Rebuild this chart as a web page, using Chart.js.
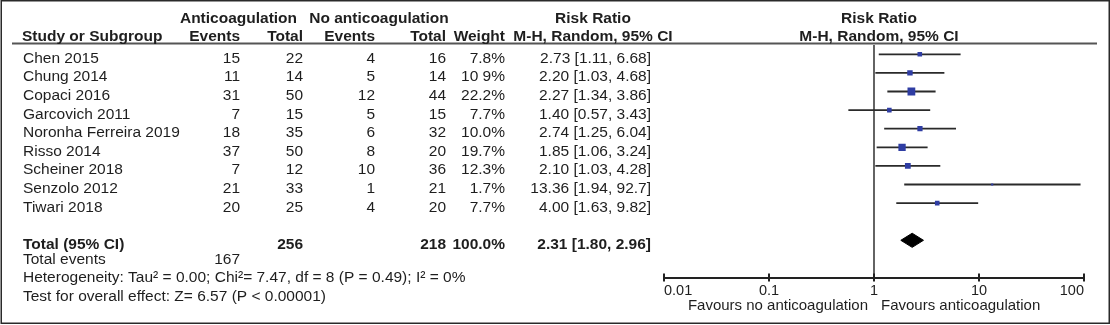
<!DOCTYPE html>
<html>
<head>
<meta charset="utf-8">
<script src="https://cdn.jsdelivr.net/npm/chart.js@4.4.1/dist/chart.umd.min.js"></script>
<style>
  html, body { margin: 0; padding: 0; background: #fff; }
  #forest { display: block; }
</style>
</head>
<body>
<canvas id="forest" width="1110" height="325"></canvas>
<script>
// ---- study data ----
const studies = ['Chen 2015', 'Chung 2014', 'Copaci 2016', 'Garcovich 2011', 'Noronha Ferreira 2019',
                 'Risso 2014', 'Scheiner 2018', 'Senzolo 2012', 'Tiwari 2018'];
const antiEvents   = [15, 11, 31, 7, 18, 37, 7, 21, 20];
const antiTotal    = [22, 14, 50, 15, 35, 50, 12, 33, 25];
const noAntiEvents = [4, 5, 12, 5, 6, 8, 10, 1, 4];
const noAntiTotal  = [16, 14, 44, 15, 32, 20, 36, 21, 20];
const weights      = [7.8, 10.9, 22.2, 7.7, 10.0, 19.7, 12.3, 1.7, 7.7];
const weightText   = ['7.8%', '10 9%', '22.2%', '7.7%', '10.0%', '19.7%', '12.3%', '1.7%', '7.7%'];
const riskRatio    = [2.73, 2.20, 2.27, 1.40, 2.74, 1.85, 2.10, 13.36, 4.00];
const ciLow        = [1.11, 1.03, 1.34, 0.57, 1.25, 1.06, 1.03, 1.94, 1.63];
const ciHigh       = [6.68, 4.68, 3.86, 3.43, 6.04, 3.24, 4.28, 92.7, 9.82];

// pooled result
const pooled = [2.31, 1.80, 2.96];          // estimate, lower, upper
const pooledTotals = [167, 256, 218];       // total events, anticoag n, no anticoag n
const pooledWeight = '100.0%';

const axisTicks = [0.01, 0.1, 1, 10, 100];
const axisTickLabels = ['0.01', '0.1', '1', '10', '100'];

const heterogeneityText = 'Heterogeneity: Tau\u00B2 = 0.00; Chi\u00B2= 7.47, df = 8 (P = 0.49); I\u00B2 = 0%';
const overallText = 'Test for overall effect: Z= 6.57 (P < 0.00001)';

// ---- layout ----
const TOTAL_ROW = 10;
const FONT = '"Liberation Sans", Arial, Helvetica, sans-serif';
const INK = '#1e1e1e';

const fmt = v => (v >= 50 ? v.toFixed(1) : v.toFixed(2));
const ciLabel = (est, lo, hi) => `${est.toFixed(2)} [${fmt(lo)}, ${fmt(hi)}]`;

const whiskers = studies.map((s, i) => ({
  type: 'line',
  data: [{ x: ciLow[i], y: i }, { x: ciHigh[i], y: i }],
  borderColor: '#2a2a2a',
  borderWidth: 1.8,
  pointRadius: 0,
  order: 2
}));

const squares = {
  type: 'scatter',
  data: studies.map((s, i) => ({ x: riskRatio[i], y: i })),
  pointStyle: 'rect',
  pointRadius: c => 1.65 * Math.sqrt(weights[c.dataIndex]) / Math.SQRT2,
  pointBackgroundColor: '#2f3da3',
  backgroundColor: '#2f3da3',
  pointBorderWidth: 0,
  borderWidth: 0,
  order: 0
};

const diamond = {
  type: 'line',
  data: [
    { x: pooled[1], y: TOTAL_ROW },
    { x: pooled[0], y: TOTAL_ROW - 0.38 },
    { x: pooled[2], y: TOTAL_ROW },
    { x: pooled[0], y: TOTAL_ROW + 0.38 },
    { x: pooled[1], y: TOTAL_ROW }
  ],
  borderColor: '#000',
  backgroundColor: '#000',
  borderWidth: 1,
  fill: 'shape',
  pointRadius: 0,
  tension: 0,
  order: 0
};

const nullLine = {
  type: 'line',
  data: [{ x: 1, y: -0.5 }, { x: 1, y: 12 }],
  borderColor: '#222',
  borderWidth: 1.4,
  pointRadius: 0,
  order: 3
};

function text(ctx, str, x, y, align, bold, size) {
  ctx.font = `${bold ? 'bold ' : ''}${size || 15.5}px ${FONT}`;
  ctx.textAlign = align;
  ctx.fillText(str, x, y);
}

// table columns, frame and axis captions
const tablePlugin = {
  id: 'forestTable',
  afterDraw(chart) {
    const { ctx } = chart;
    const { x, y } = chart.scales;
    const base = r => y.getPixelForValue(r) + 8.5;

    ctx.save();
    // frame
    ctx.strokeStyle = '#2a2a2a';
    ctx.lineWidth = 1.5;
    ctx.strokeRect(1.25, 0.75, 1108, 322.5);

    // header rule
    ctx.strokeStyle = '#555';
    ctx.lineWidth = 2;
    ctx.beginPath();
    ctx.moveTo(12, 43.5);
    ctx.lineTo(1097, 43.5);
    ctx.stroke();

    // upper half of the axis tick marks
    ctx.strokeStyle = '#222';
    ctx.lineWidth = 2;
    axisTicks.forEach(v => {
      const px = Math.round(x.getPixelForValue(v));
      ctx.beginPath();
      ctx.moveTo(px, chart.chartArea.bottom - 4);
      ctx.lineTo(px, chart.chartArea.bottom);
      ctx.stroke();
    });

    ctx.fillStyle = INK;
    ctx.textBaseline = 'alphabetic';

    // headers
    text(ctx, 'Anticoagulation', 238.5, 22.7, 'center', true);
    text(ctx, 'No anticoagulation', 379, 22.7, 'center', true);
    text(ctx, 'Risk Ratio', 593, 22.7, 'center', true);
    text(ctx, 'Risk Ratio', 879, 22.7, 'center', true);
    text(ctx, 'Study or Subgroup', 22, 41, 'left', true);
    text(ctx, 'Events', 240, 41, 'right', true);
    text(ctx, 'Total', 303, 41, 'right', true);
    text(ctx, 'Events', 375, 41, 'right', true);
    text(ctx, 'Total', 446, 41, 'right', true);
    text(ctx, 'Weight', 505, 41, 'right', true);
    text(ctx, 'M-H, Random, 95% CI', 593, 41, 'center', true);
    text(ctx, 'M-H, Random, 95% CI', 879, 41, 'center', true);

    // study rows
    studies.forEach((s, i) => {
      const by = base(i);
      text(ctx, s, 23, by, 'left');
      text(ctx, String(antiEvents[i]), 240, by, 'right');
      text(ctx, String(antiTotal[i]), 303, by, 'right');
      text(ctx, String(noAntiEvents[i]), 375, by, 'right');
      text(ctx, String(noAntiTotal[i]), 446, by, 'right');
      text(ctx, weightText[i], 505, by, 'right');
      text(ctx, ciLabel(riskRatio[i], ciLow[i], ciHigh[i]), 651, by, 'right');
    });

    // pooled rows
    const ty = base(TOTAL_ROW);
    text(ctx, 'Total (95% CI)', 23, ty, 'left', true);
    text(ctx, String(pooledTotals[1]), 303, ty, 'right', true);
    text(ctx, String(pooledTotals[2]), 446, ty, 'right', true);
    text(ctx, pooledWeight, 505, ty, 'right', true);
    text(ctx, ciLabel(pooled[0], pooled[1], pooled[2]), 651, ty, 'right', true);
    text(ctx, 'Total events', 23, base(TOTAL_ROW + 0.82), 'left');
    text(ctx, String(pooledTotals[0]), 240, base(TOTAL_ROW + 0.82), 'right');
    text(ctx, heterogeneityText, 23, base(TOTAL_ROW + 1.8), 'left');
    text(ctx, overallText, 23, base(TOTAL_ROW + 2.8), 'left');

    // favours captions either side of the null line
    const one = x.getPixelForValue(1);
    text(ctx, 'Favours no anticoagulation', one - 6, 309.5, 'right', false, 15);
    text(ctx, 'Favours anticoagulation', one + 7, 309.5, 'left', false, 15);
    ctx.restore();
  }
};

new Chart(document.getElementById('forest'), {
  type: 'scatter',
  data: { datasets: [squares, diamond, ...whiskers, nullLine] },
  options: {
    responsive: false,
    animation: false,
    devicePixelRatio: 1,
    events: [],
    layout: { padding: { left: 664, right: 26, top: 45, bottom: 0 } },
    plugins: { legend: { display: false }, tooltip: { enabled: false } },
    scales: {
      x: {
        type: 'logarithmic',
        min: 0.01,
        max: 100,
        afterBuildTicks: s => { s.ticks = axisTicks.map(v => ({ value: v })); },
        afterFit: s => { s.height = 47.5; },
        border: { display: true, color: '#222', width: 2 },
        grid: { drawOnChartArea: false, drawTicks: true, tickLength: 4, tickWidth: 2, tickColor: '#222', color: '#222', lineWidth: 2 },
        ticks: {
          autoSkip: false,
          maxRotation: 0,
          align: 'inner',
          padding: 1,
          color: INK,
          font: { family: FONT, size: 14.5 },
          callback: (v, i) => axisTickLabels[i]
        }
      },
      y: { type: 'linear', min: -0.5, max: 12, reverse: true, display: false }
    }
  },
  plugins: [tablePlugin]
});
</script>
</body>
</html>
